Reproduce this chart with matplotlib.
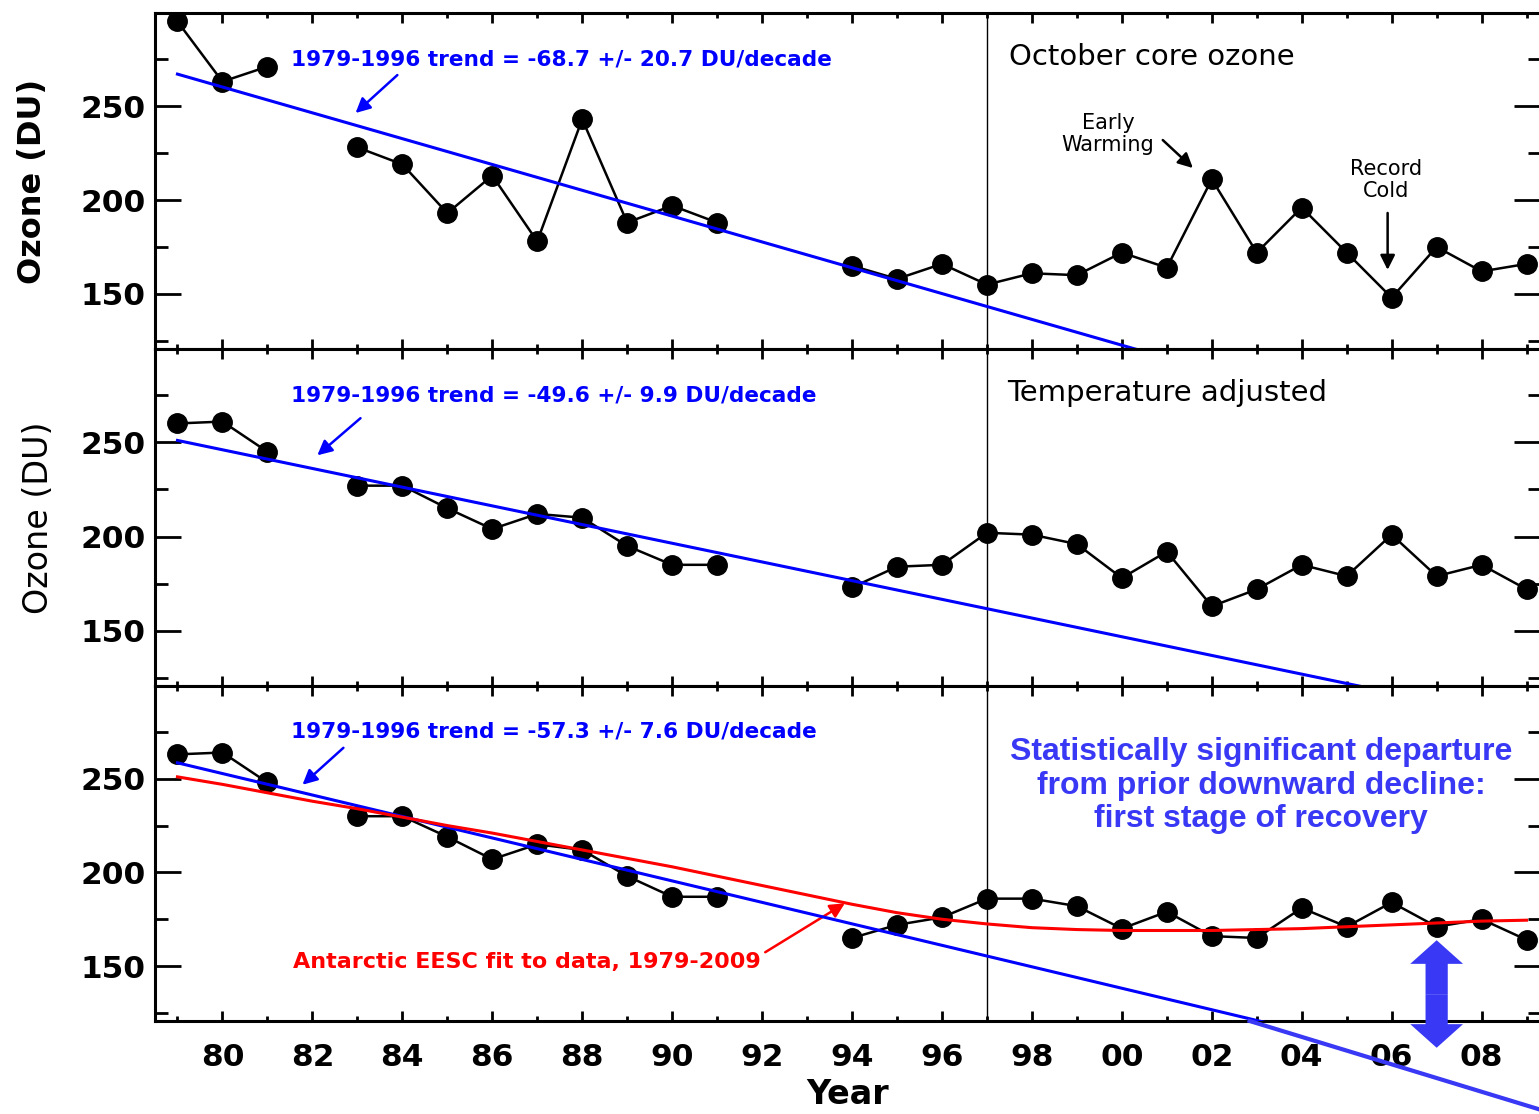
import numpy as np
import matplotlib.pyplot as plt
from matplotlib.patches import FancyArrowPatch
from matplotlib.ticker import MultipleLocator, FuncFormatter

years = np.arange(1979, 2010)
nan = np.nan

# October core ozone (DU), no data in 1982, 1992, 1993
ozone_core = [295, 263, 271, nan, 228, 219, 193, 213, 178, 243, 188, 197, 188,
              nan, nan, 165, 158, 166, 155, 161, 160, 172, 164, 211, 172, 196,
              172, 148, 175, 162, 166]
ozone_tadj = [260, 261, 245, nan, 227, 227, 215, 204, 212, 210, 195, 185, 185,
              nan, nan, 173, 184, 185, 202, 201, 196, 178, 192, 163, 172, 185,
              179, 201, 179, 185, 172]
ozone_tadj2 = [263, 264, 248, nan, 230, 230, 219, 207, 215, 212, 198, 187, 187,
               nan, nan, 165, 172, 176, 186, 186, 182, 170, 179, 166, 165, 181,
               171, 184, 171, 175, 164]

# EESC fit curve (DU)
eesc_fit = [251, 247, 242.5, 238, 234, 229.5, 225, 221, 216.5, 212, 207.5, 203,
            198, 193, 188, 183, 178.5, 175, 172.5, 170.5, 169.5, 169, 169, 169,
            169.5, 170, 171, 172, 173, 174, 174.5]

# 1979-1996 linear trends: value at 1979 and slope (DU/decade) +/- error
trend_start = [267, 251, 258.5]
trend_slope = [-68.7, -49.6, -57.3]
trend_err = [20.7, 9.9, 7.6]

series = [ozone_core, ozone_tadj, ozone_tadj2]

XMIN, XMAX = 1978.5, 2009.3
YMIN, YMAX = 120.7, 299.5
BLUE = '#0000ff'
RED = '#ff0000'
PPT_BLUE = '#3838f5'

fig = plt.figure(figsize=(15.39, 11.14), dpi=100)
axes = [fig.add_axes([0.1007, 0.6867, 0.9, 0.3016]),
        fig.add_axes([0.1007, 0.3842, 0.9, 0.3025]),
        fig.add_axes([0.1007, 0.0835, 0.9, 0.3007])]

trend_x = np.array([1979, XMAX])
for i, ax in enumerate(axes):
    ax.plot(years, series[i], color='black', lw=1.8, marker='o', ms=14,
            zorder=3)
    ax.plot(trend_x, trend_start[i] + trend_slope[i] / 10 * (trend_x - 1979),
            color=BLUE, lw=2.2, zorder=4)
    ax.axvline(1997, color='black', lw=1.0, zorder=2)

    ax.set_xlim(XMIN, XMAX)
    ax.set_ylim(YMIN, YMAX)
    ax.xaxis.set_major_locator(MultipleLocator(2))
    ax.xaxis.set_minor_locator(MultipleLocator(1))
    ax.yaxis.set_major_locator(MultipleLocator(50))
    ax.yaxis.set_minor_locator(MultipleLocator(25))
    ax.xaxis.set_tick_params(which='major', direction='in', length=7, width=2,
                             top=True, bottom=True, pad=16)
    ax.xaxis.set_tick_params(which='minor', direction='in', length=3.5,
                             width=2, top=True, bottom=True)
    ax.yaxis.set_tick_params(which='major', direction='in', length=19, width=2,
                             left=True, right=True, pad=7)
    ax.yaxis.set_tick_params(which='minor', direction='in', length=9, width=2,
                             left=True, right=True)
    for lab in ax.get_yticklabels():
        lab.set_fontsize(22.5)
        lab.set_fontweight('bold')
    for sp in ax.spines.values():
        sp.set_linewidth(2.2)
    if i < 2:
        ax.tick_params(axis='x', labelbottom=False)

    ax.text(1981.53, 275,
            f'1979-1996 trend = {trend_slope[i]:.1f} +/- {trend_err[i]:.1f} DU/decade',
            color=BLUE, fontsize=15.6, fontweight='bold', va='center', ha='left')

ax1, ax2, ax3 = axes

ax3.xaxis.set_major_formatter(FuncFormatter(lambda v, p: f'{int(v) % 100:02d}'))
for lab in ax3.get_xticklabels():
    lab.set_fontsize(22.5)
    lab.set_fontweight('bold')
ax3.set_xlabel('Year', fontsize=24, fontweight='bold', labelpad=4)

ax1.set_ylabel('Ozone (DU)', fontsize=23, fontweight='bold')
ax1.yaxis.set_label_coords(-0.077, 0.5)
ax2.set_ylabel('Ozone (DU)', fontsize=24)
ax2.yaxis.set_label_coords(-0.072, 0.5)

# EESC fit
ax3.plot(years, eesc_fit, color=RED, lw=2.2, zorder=5)

# trend arrows
arrow_kw = dict(arrowstyle='-|>', color=BLUE, lw=1.8, mutation_scale=22,
                shrinkA=0, shrinkB=0)
ax1.annotate('', xy=(1982.96, 246.3), xytext=(1983.89, 266.5),
             arrowprops=arrow_kw)
ax2.annotate('', xy=(1982.11, 243.1), xytext=(1983.07, 262.8),
             arrowprops=arrow_kw)
ax3.annotate('', xy=(1981.78, 246.8), xytext=(1982.69, 266.5),
             arrowprops=arrow_kw)

# panel titles and notes
ax1.text(1997.5, 276, 'October core ozone', fontsize=21, va='center')
ax2.text(1997.45, 276, 'Temperature adjusted', fontsize=21, va='center')

ax1.text(1999.69, 235, 'Early\nWarming', fontsize=15, ha='center',
         va='center', linespacing=1.15)
ax1.annotate('', xy=(2001.58, 217), xytext=(2000.91, 231.9),
             arrowprops=dict(arrowstyle='-|>', color='black', lw=1.8,
                             mutation_scale=22, shrinkA=0, shrinkB=0))
ax1.text(2005.87, 210.6, 'Record\nCold', fontsize=15, ha='center',
         va='center', linespacing=1.15)
ax1.annotate('', xy=(2005.91, 162.8), xytext=(2005.91, 193.1),
             arrowprops=dict(arrowstyle='-|>', color='black', lw=1.8,
                             mutation_scale=22, shrinkA=0, shrinkB=0))

ax3.text(1981.56, 152, 'Antarctic EESC fit to data, 1979-2009', color=RED,
         fontsize=16, fontweight='bold', va='center', ha='left')
ax3.annotate('', xy=(1993.84, 183.5), xytext=(1992.07, 157.4),
             arrowprops=dict(arrowstyle='-|>', color=RED, lw=1.8,
                             mutation_scale=22, shrinkA=0, shrinkB=0))

ax3.text(2003.1, 246.3,
         'Statistically significant departure\nfrom prior downward decline:\nfirst stage of recovery',
         color=PPT_BLUE, fontsize=23, fontweight='bold', ha='center',
         va='center', family='Liberation Sans', linespacing=1.15)

# downward trend continued past the axis
ax3.plot([2002.84, XMAX], [120.7, 73.4], color=PPT_BLUE, lw=3, clip_on=False,
         zorder=6)

# departure arrow between EESC fit and extended trend
style = 'simple,head_length=17,head_width=38,tail_width=16'
for tip in (163.8, 106.4):
    ax3.add_patch(FancyArrowPatch((2007.0, 135), (2007.0, tip),
                                  arrowstyle=style, color=PPT_BLUE,
                                  shrinkA=0, shrinkB=0, clip_on=False,
                                  zorder=7, lw=0))

fig.savefig('out.png', dpi=100)
